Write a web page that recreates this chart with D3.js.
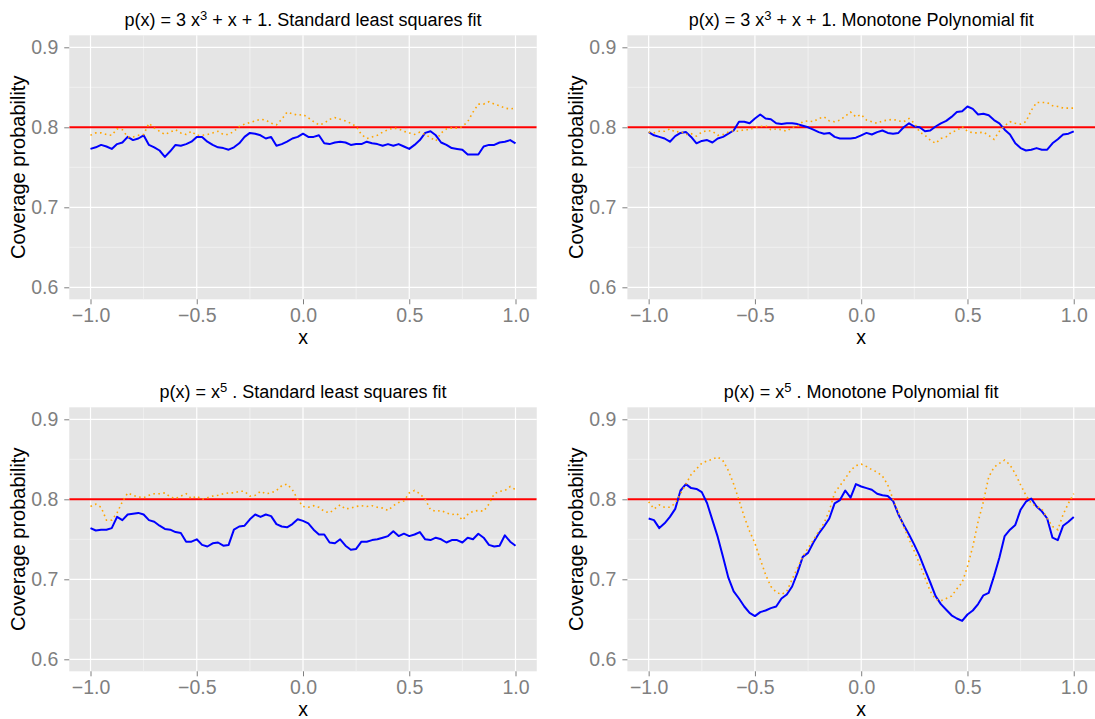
<!DOCTYPE html>
<html>
<head>
<meta charset="utf-8">
<script src="https://cdn.jsdelivr.net/npm/d3@7"></script>
<style>
  html, body { margin: 0; padding: 0; background: #fff; }
  text { font-family: "Liberation Sans", Arial, Helvetica, sans-serif; }
</style>
</head>
<body>
<svg id="chart"></svg>
<script>
// ── Data ────────────────────────────────────────────────────────────────
// common x grid, -1 .. 1 in steps of 0.025
const xGrid = [
  -1.000, -0.975, -0.950, -0.925, -0.900, -0.875, -0.850, -0.825, -0.800, -0.775,
  -0.750, -0.725, -0.700, -0.675, -0.650, -0.625, -0.600, -0.575, -0.550, -0.525,
  -0.500, -0.475, -0.450, -0.425, -0.400, -0.375, -0.350, -0.325, -0.300, -0.275,
  -0.250, -0.225, -0.200, -0.175, -0.150, -0.125, -0.100, -0.075, -0.050, -0.025,
   0.000,  0.025,  0.050,  0.075,  0.100,  0.125,  0.150,  0.175,  0.200,  0.225,
   0.250,  0.275,  0.300,  0.325,  0.350,  0.375,  0.400,  0.425,  0.450,  0.475,
   0.500,  0.525,  0.550,  0.575,  0.600,  0.625,  0.650,  0.675,  0.700,  0.725,
   0.750,  0.775,  0.800,  0.825,  0.850,  0.875,  0.900,  0.925,  0.950,  0.975,
   1.000
];

// p(x) = 3x^3 + x + 1, standard least squares
const cubicLsBlue = [
  .773, .775, .778, .776, .773, .779, .781, .788, .784, .786,
  .790, .778, .775, .771, .763, .770, .778, .777, .779, .782,
  .788, .788, .782, .778, .775, .774, .772, .775, .780, .788,
  .793, .792, .790, .786, .788, .777, .779, .782, .786, .788,
  .792, .788, .788, .790, .780, .779, .781, .782, .781, .778,
  .779, .779, .782, .780, .779, .777, .779, .777, .779, .776,
  .773, .778, .784, .793, .795, .790, .781, .778, .774, .773,
  .772, .766, .766, .766, .776, .778, .778, .781, .782, .784,
  .780
];
const cubicLsOrange = [
  .790, .793, .793, .791, .790, .798, .797, .788, .788, .790,
  .791, .805, .799, .795, .791, .794, .797, .793, .791, .795,
  .790, .790, .791, .793, .795, .791, .791, .795, .801, .804,
  .806, .808, .810, .809, .805, .803, .810, .819, .817, .815,
  .816, .812, .807, .803, .805, .810, .812, .810, .808, .805,
  .801, .791, .786, .788, .790, .794, .797, .799, .798, .795,
  .793, .791, .794, .791, .787, .783, .793, .798, .799, .799,
  .801, .807, .819, .829, .829, .832, .829, .827, .824, .823,
  .824
];

// p(x) = 3x^3 + x + 1, monotone polynomial
const cubicMonoBlue = [
  .794, .790, .788, .786, .782, .789, .793, .794, .788, .780,
  .783, .784, .781, .786, .788, .792, .796, .807, .807, .805,
  .811, .816, .811, .810, .805, .804, .805, .805, .804, .802,
  .800, .797, .794, .792, .793, .788, .786, .786, .786, .787,
  .790, .793, .791, .794, .796, .793, .792, .793, .800, .805,
  .801, .800, .795, .796, .801, .805, .808, .813, .819, .820,
  .826, .823, .816, .817, .815, .809, .805, .797, .791, .780,
  .774, .771, .772, .774, .772, .772, .780, .785, .791, .792,
  .795
];
const cubicMonoOrange = [
  .794, .793, .795, .795, .798, .794, .795, .791, .792, .789,
  .794, .796, .795, .790, .791, .794, .796, .795, .797, .797,
  .800, .801, .802, .797, .798, .797, .795, .800, .801, .807,
  .808, .807, .811, .813, .808, .807, .809, .814, .819, .813,
  .816, .809, .807, .805, .808, .809, .810, .808, .807, .811,
  .805, .794, .790, .784, .780, .786, .788, .794, .796, .801,
  .795, .793, .793, .794, .790, .785, .795, .802, .807, .805,
  .804, .807, .821, .831, .831, .831, .827, .826, .824, .824,
  .824
];

// p(x) = x^5, standard least squares
const quinticLsBlue = [
  .764, .761, .762, .762, .764, .778, .774, .781, .782, .783,
  .781, .774, .772, .767, .763, .762, .759, .758, .747, .747,
  .750, .743, .741, .745, .746, .742, .743, .762, .766, .767,
  .775, .781, .778, .781, .779, .769, .766, .765, .769, .775,
  .773, .770, .762, .756, .756, .746, .745, .750, .742, .737,
  .738, .747, .747, .749, .750, .752, .754, .760, .754, .757,
  .754, .756, .759, .750, .749, .752, .750, .746, .749, .749,
  .746, .752, .750, .757, .752, .743, .741, .742, .755, .747,
  .742
];
const quinticLsOrange = [
  .791, .794, .790, .774, .774, .783, .797, .808, .805, .803,
  .802, .805, .807, .807, .808, .803, .801, .804, .807, .801,
  .804, .800, .802, .804, .805, .807, .808, .808, .810, .810,
  .804, .805, .810, .807, .808, .811, .817, .819, .812, .800,
  .791, .790, .792, .790, .785, .783, .788, .793, .788, .789,
  .791, .792, .791, .792, .790, .789, .786, .792, .796, .798,
  .808, .811, .807, .800, .787, .785, .786, .783, .781, .782,
  .774, .781, .785, .786, .785, .794, .807, .810, .811, .816,
  .812
];

// p(x) = x^5, monotone polynomial
const quinticMonoBlue = [
  .776, .774, .764, .770, .778, .788, .811, .819, .814, .813,
  .809, .795, .774, .753, .728, .702, .685, .676, .666, .658,
  .654, .659, .661, .664, .666, .676, .681, .691, .708, .728,
  .733, .746, .757, .766, .776, .795, .799, .811, .802, .819,
  .816, .814, .812, .807, .805, .804, .798, .781, .768, .756,
  .743, .729, .712, .696, .679, .669, .662, .655, .651, .648,
  .656, .661, .669, .680, .683, .704, .727, .754, .762, .768,
  .787, .797, .801, .791, .785, .776, .752, .749, .767, .772,
  .778
];
const quinticMonoOrange = [
  .797, .788, .793, .790, .790, .795, .807, .819, .831, .838,
  .845, .848, .850, .853, .848, .836, .819, .799, .778, .760,
  .745, .725, .706, .691, .684, .681, .685, .700, .714, .728,
  .739, .749, .760, .770, .786, .808, .817, .826, .836, .842,
  .844, .841, .837, .834, .829, .818, .800, .783, .766, .750,
  .735, .719, .702, .685, .675, .673, .676, .679, .688, .696,
  .716, .741, .772, .797, .828, .840, .845, .849, .843, .832,
  .818, .805, .795, .791, .788, .776, .766, .762, .781, .795,
  .807
];

const target = 0.8;
const xTicks = [-1, -0.5, 0, 0.5, 1];
const xMinor = [-0.75, -0.25, 0.25, 0.75];
const yTicks = [0.6, 0.7, 0.8, 0.9];
const yMinor = [0.65, 0.75, 0.85];
const xLabel = "x";
const yLabel = "Coverage probability";

// ── Layout ──────────────────────────────────────────────────────────────
const W = 1095, H = 719;
const svg = d3.select("#chart").attr("width", W).attr("height", H);
svg.append("rect").attr("width", W).attr("height", H).attr("fill", "#fff");

const panels = [
  { left: 69.25, right: 536.75, top: 35.3,  bottom: 299.3,
    title: [["p(x) = 3 x"], ["3", true], [" + x + 1. Standard least squares fit"]],
    blue: cubicLsBlue, orange: cubicLsOrange },
  { left: 627.4,  right: 1095,   top: 35.3,  bottom: 299.3,
    title: [["p(x) = 3 x"], ["3", true], [" + x + 1. Monotone Polynomial fit"]],
    blue: cubicMonoBlue, orange: cubicMonoOrange },
  { left: 69.25, right: 536.75, top: 407.3, bottom: 671.3,
    title: [["p(x) = x"], ["5", true], [" . Standard least squares fit"]],
    blue: quinticLsBlue, orange: quinticLsOrange },
  { left: 627.4,  right: 1095,   top: 407.3, bottom: 671.3,
    title: [["p(x) = x"], ["5", true], [" . Monotone Polynomial fit"]],
    blue: quinticMonoBlue, orange: quinticMonoOrange }
];

const fmt = d3.format(".1f");

panels.forEach((p, i) => {
  const x = d3.scaleLinear().domain([-1.1, 1.1]).range([p.left, p.right]);
  const y = d3.scaleLinear().domain([0.585, 0.915]).range([p.bottom, p.top]);
  const g = svg.append("g");

  // panel background
  g.append("rect")
    .attr("x", p.left).attr("y", p.top)
    .attr("width", p.right - p.left).attr("height", p.bottom - p.top)
    .attr("fill", "#E5E5E5");

  // minor grid
  g.selectAll(".vminor").data(xMinor).join("line")
    .attr("x1", d => x(d)).attr("x2", d => x(d))
    .attr("y1", p.top).attr("y2", p.bottom)
    .attr("stroke", "#F2F2F2").attr("stroke-width", 0.8);
  g.selectAll(".hminor").data(yMinor).join("line")
    .attr("x1", p.left).attr("x2", p.right)
    .attr("y1", d => y(d)).attr("y2", d => y(d))
    .attr("stroke", "#F2F2F2").attr("stroke-width", 0.8);

  // major grid
  g.selectAll(".vmajor").data(xTicks).join("line")
    .attr("x1", d => x(d)).attr("x2", d => x(d))
    .attr("y1", p.top).attr("y2", p.bottom)
    .attr("stroke", "#fff").attr("stroke-width", 1.2);
  g.selectAll(".hmajor").data(yTicks).join("line")
    .attr("x1", p.left).attr("x2", p.right)
    .attr("y1", d => y(d)).attr("y2", d => y(d))
    .attr("stroke", "#fff").attr("stroke-width", 1.2);

  // axes
  const xAxis = g.append("g")
    .attr("transform", `translate(0,${p.bottom})`)
    .call(d3.axisBottom(x).tickValues(xTicks).tickSize(5).tickPadding(4).tickFormat(fmt));
  const yAxis = g.append("g")
    .attr("transform", `translate(${p.left},0)`)
    .call(d3.axisLeft(y).tickValues(yTicks).tickSize(5).tickPadding(6).tickFormat(fmt));
  [xAxis, yAxis].forEach(a => {
    a.select(".domain").remove();
    a.selectAll("line").attr("stroke", "#7F7F7F").attr("stroke-width", 1);
    a.selectAll("text")
      .attr("fill", "#7F7F7F")
      .attr("font-size", 19.5)
      .style("font-family", "'Liberation Sans', Arial, sans-serif");
  });

  // clip
  const clipId = "clip" + i;
  svg.append("clipPath").attr("id", clipId).append("rect")
    .attr("x", p.left).attr("y", p.top)
    .attr("width", p.right - p.left).attr("height", p.bottom - p.top);
  const plot = g.append("g").attr("clip-path", `url(#${clipId})`);

  const line = d3.line().x((d, k) => x(xGrid[k])).y(d => y(d));

  // reference line
  plot.append("line")
    .attr("x1", p.left).attr("x2", p.right)
    .attr("y1", y(target)).attr("y2", y(target))
    .attr("stroke", "#FF0000").attr("stroke-width", 2);

  // blue coverage curve
  plot.append("path")
    .datum(p.blue)
    .attr("fill", "none")
    .attr("stroke", "#0000FF")
    .attr("stroke-width", 2)
    .attr("stroke-linejoin", "round")
    .attr("d", line);

  // orange dotted curve
  plot.append("path")
    .datum(p.orange)
    .attr("fill", "none")
    .attr("stroke", "#FFA500")
    .attr("stroke-width", 1.6)
    .attr("stroke-dasharray", "1.6,3.4")
    .attr("d", line);

  // title
  const t = g.append("text")
    .attr("x", (p.left + p.right) / 2)
    .attr("y", p.top - 9.3)
    .attr("text-anchor", "middle")
    .attr("font-size", 18)
    .attr("fill", "#000");
  p.title.forEach(([s, sup]) => {
    const ts = t.append("tspan").text(s);
    if (sup) ts.attr("font-size", 13).attr("baseline-shift", "45%");
  });

  // axis titles
  g.append("text")
    .attr("x", x(0))
    .attr("y", p.bottom + 44.5)
    .attr("text-anchor", "middle")
    .attr("font-size", 19.5)
    .attr("fill", "#000")
    .text(xLabel);

  g.append("text")
    .attr("transform", `translate(${p.left - 44},${(p.top + p.bottom) / 2}) rotate(-90)`)
    .attr("text-anchor", "middle")
    .attr("font-size", 20)
    .attr("fill", "#000")
    .text(yLabel);
});
</script>
</body>
</html>
